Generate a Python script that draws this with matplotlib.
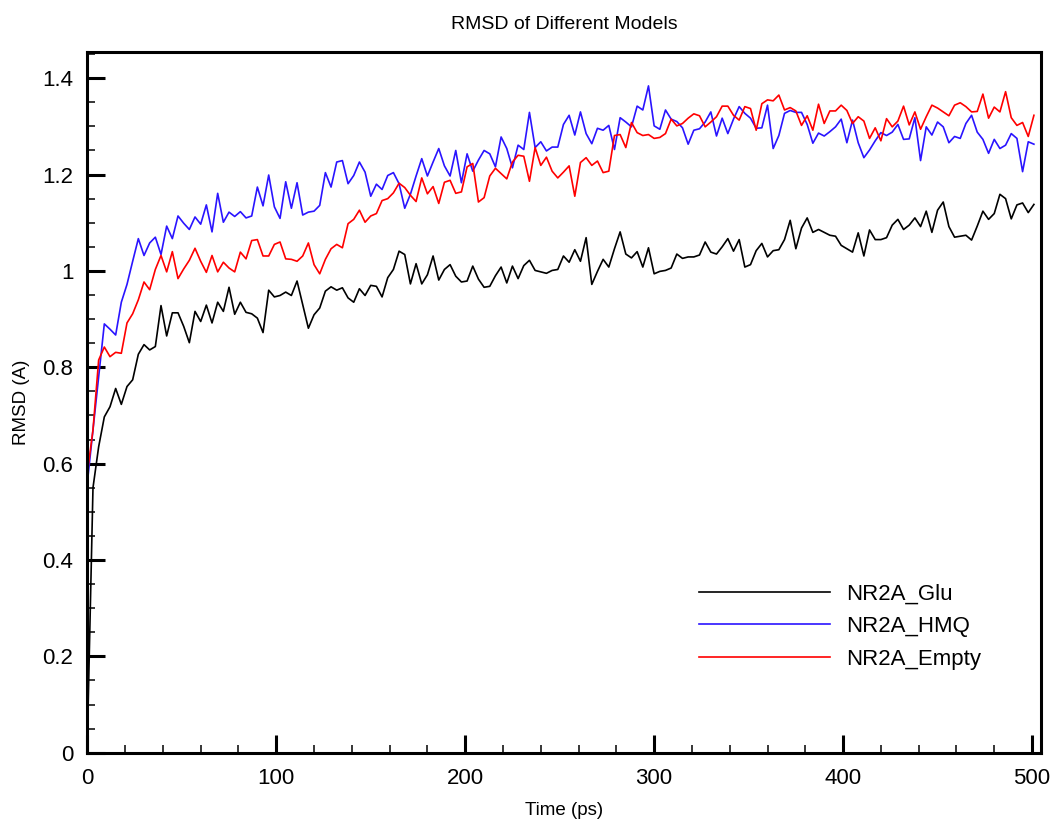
import numpy as np
import matplotlib
matplotlib.use('Agg')
import matplotlib.pyplot as plt
from matplotlib.ticker import MultipleLocator, FuncFormatter

plt.rcParams['font.family'] = ['Liberation Sans', 'DejaVu Sans']

# time axis: one frame every 3 ps
time_ps = np.arange(0, 502, 3)

glu = [0.02, 0.55, 0.635,
       0.697, 0.718, 0.756, 0.723, 0.760, 0.774, 0.827, 0.847, 0.836, 0.843,
       0.928, 0.865, 0.913, 0.913, 0.885, 0.851, 0.916, 0.895, 0.929, 0.892,
       0.935, 0.916, 0.966, 0.910, 0.935, 0.914, 0.911, 0.902, 0.872, 0.960,
       0.946, 0.949, 0.956, 0.949, 0.979, 0.930, 0.881, 0.909, 0.923, 0.958,
       0.967, 0.960, 0.965, 0.944, 0.935, 0.963, 0.949, 0.970, 0.968, 0.946,
       0.986, 1.003, 1.041, 1.034, 0.973, 1.015, 0.973, 0.992, 1.031, 0.981,
       1.003, 1.013, 0.989, 0.977, 0.979, 1.010, 0.983, 0.966, 0.968, 0.990,
       1.008, 0.975, 1.010, 0.984, 1.011, 1.022, 1.001, 0.998, 0.995, 1.001,
       1.003, 1.031, 1.018,
       1.044, 1.020, 1.069, 0.972, 0.999, 1.024, 1.008, 1.046, 1.081, 1.035,
       1.027, 1.040, 1.008, 1.048, 0.994, 0.999, 1.001, 1.006, 1.035, 1.026,
       1.029, 1.029, 1.033, 1.060, 1.039, 1.035, 1.050, 1.067, 1.041, 1.065,
       1.008, 1.013, 1.042, 1.057, 1.029, 1.042, 1.044, 1.065, 1.105, 1.046,
       1.089, 1.110,
       1.080, 1.086, 1.080, 1.074, 1.072, 1.053, 1.046, 1.039, 1.079, 1.031,
       1.085, 1.065, 1.065, 1.069, 1.095, 1.107, 1.086, 1.095, 1.110, 1.092,
       1.124, 1.080, 1.126, 1.143, 1.092, 1.070, 1.072, 1.074, 1.064, 1.093,
       1.124, 1.107, 1.119, 1.159, 1.150, 1.108, 1.137, 1.141, 1.121, 1.138]

hmq = [0.56, 0.67, 0.78,
       0.890, 0.879, 0.867, 0.935, 0.972, 1.020, 1.067, 1.032, 1.058, 1.070,
       1.034, 1.093, 1.067, 1.114, 1.099, 1.086, 1.112, 1.097, 1.137, 1.081,
       1.161, 1.101, 1.122, 1.113, 1.123, 1.110, 1.114, 1.174, 1.135, 1.199,
       1.133, 1.109, 1.185, 1.130, 1.183, 1.116, 1.122, 1.124, 1.136, 1.204,
       1.174, 1.226, 1.229, 1.181, 1.198, 1.226, 1.205, 1.155, 1.180, 1.169,
       1.198, 1.204, 1.181, 1.130, 1.159, 1.197, 1.233, 1.197, 1.226, 1.254,
       1.218, 1.197, 1.250, 1.183, 1.243, 1.207, 1.230, 1.250, 1.243, 1.216,
       1.278, 1.254, 1.214, 1.261, 1.252, 1.329, 1.256, 1.268, 1.249, 1.257,
       1.257, 1.304, 1.323,
       1.282, 1.330, 1.285, 1.264, 1.296, 1.292, 1.302, 1.252, 1.318, 1.309,
       1.299, 1.342, 1.334, 1.384, 1.301, 1.294, 1.334, 1.315, 1.310, 1.297,
       1.263, 1.292, 1.295, 1.309, 1.330, 1.280, 1.317, 1.285, 1.315, 1.341,
       1.327, 1.317, 1.296, 1.297, 1.344, 1.254, 1.281, 1.327, 1.333, 1.329,
       1.329, 1.304,
       1.265, 1.286, 1.280, 1.289, 1.299, 1.315, 1.266, 1.313, 1.266, 1.235,
       1.251, 1.270, 1.287, 1.281, 1.288, 1.304, 1.273, 1.274, 1.318, 1.229,
       1.299, 1.282, 1.309, 1.299, 1.266, 1.279, 1.275, 1.306, 1.323, 1.288,
       1.273, 1.244, 1.273, 1.254, 1.261, 1.285, 1.275, 1.206, 1.268, 1.263]

empty = [0.58, 0.67, 0.815,
         0.842, 0.822, 0.831, 0.829, 0.892, 0.911, 0.940, 0.977, 0.961, 1.003,
         1.032, 0.998, 1.040, 0.984, 1.004, 1.022, 1.047, 1.020, 0.997, 1.032,
         0.998, 1.018, 1.006, 0.998, 1.039, 1.025, 1.063, 1.065, 1.031, 1.031,
         1.055, 1.060, 1.025, 1.024, 1.020, 1.031, 1.058, 1.013, 0.994, 1.024,
         1.046, 1.055, 1.048, 1.098, 1.107, 1.126, 1.101, 1.114, 1.119, 1.146,
         1.150, 1.162, 1.182, 1.173, 1.157, 1.144, 1.193, 1.160, 1.175, 1.140,
         1.184, 1.188, 1.161, 1.164, 1.216, 1.223, 1.143, 1.152, 1.197, 1.213,
         1.202, 1.191, 1.226, 1.240, 1.238, 1.186, 1.256, 1.219, 1.236, 1.207,
         1.193, 1.205, 1.218,
         1.155, 1.225, 1.235, 1.219, 1.228, 1.204, 1.207, 1.281, 1.283, 1.256,
         1.308, 1.287, 1.281, 1.283, 1.275, 1.277, 1.285, 1.315, 1.301, 1.306,
         1.317, 1.326, 1.322, 1.299, 1.309, 1.320, 1.342, 1.342, 1.323, 1.313,
         1.341, 1.337, 1.292, 1.347, 1.355, 1.353, 1.365, 1.334, 1.339, 1.332,
         1.302, 1.322,
         1.292, 1.346, 1.306, 1.332, 1.332, 1.344, 1.333, 1.306, 1.320, 1.311,
         1.275, 1.297, 1.270, 1.316, 1.299, 1.311, 1.342, 1.303, 1.330, 1.294,
         1.320, 1.344, 1.338, 1.330, 1.322, 1.344, 1.349, 1.341, 1.330, 1.331,
         1.367, 1.317, 1.340, 1.330, 1.372, 1.318, 1.302, 1.308, 1.279, 1.323]

fig = plt.figure(figsize=(10.52, 8.23), dpi=100)
ax = fig.add_axes([0.083, 0.0854, 0.907, 0.8518])

ax.plot(time_ps, glu, color='black', lw=1.2, label='NR2A_Glu')
ax.plot(time_ps, hmq, color='#2a14ff', lw=1.2, label='NR2A_HMQ')
ax.plot(time_ps, empty, color='#ff0000', lw=1.2, label='NR2A_Empty')

ax.set_xlim(0, 505)
ax.set_ylim(0, 1.455)
ax.xaxis.set_major_locator(MultipleLocator(100))
ax.xaxis.set_minor_locator(MultipleLocator(20))
ax.yaxis.set_major_locator(MultipleLocator(0.2))
ax.yaxis.set_minor_locator(MultipleLocator(0.05))
fmt = FuncFormatter(lambda v, p: '{:g}'.format(round(v, 2)))
ax.xaxis.set_major_formatter(fmt)
ax.yaxis.set_major_formatter(fmt)

for s in ax.spines.values():
    s.set_linewidth(2.2)
ax.tick_params(which='major', direction='in', length=13, width=2.2,
               labelsize=16, top=False, right=False)
ax.tick_params(which='minor', direction='in', length=6, width=1.1,
               top=False, right=False)
ax.tick_params(axis='y', which='major', pad=10)
ax.tick_params(axis='x', which='major', pad=11)

ax.set_title('RMSD of Different Models', fontsize=14, pad=16)
ax.set_xlabel('Time (ps)', fontsize=13.5)
ax.set_ylabel('RMSD (A)', fontsize=13.5, va='center')
ax.xaxis.set_label_coords(0.5, -0.071)
ax.yaxis.set_label_coords(-0.0695, 0.5)

ax.legend(loc='upper left', bbox_to_anchor=(0.6644, 0.2912),
          bbox_transform=fig.transFigure, frameon=False, fontsize=16,
          handlelength=5.9, handletextpad=0.72, labelspacing=0.535,
          borderpad=0, borderaxespad=0)

fig.savefig('out.png', dpi=100)
